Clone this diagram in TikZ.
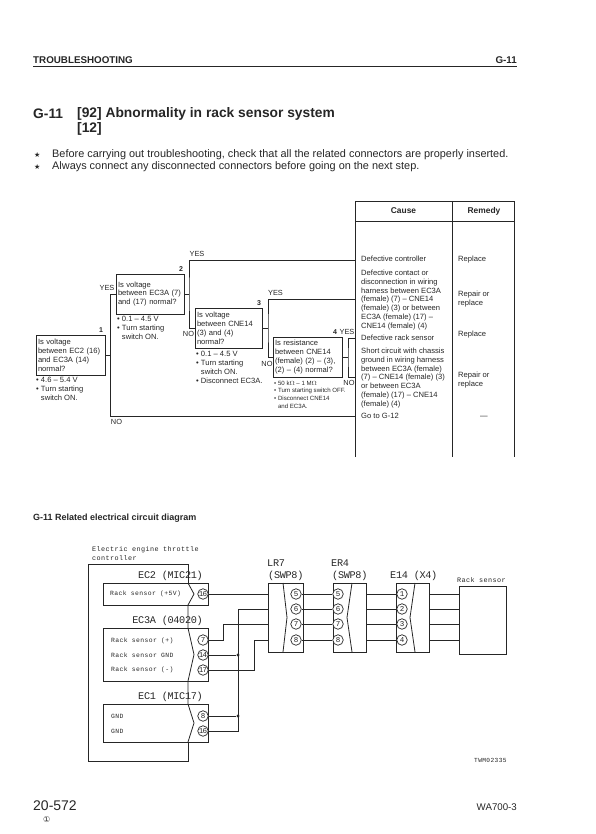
\documentclass[tikz,border=0pt]{standalone}
\usepackage{fontspec}
\setmainfont{Liberation Sans}
\newfontfamily\symfont{DejaVu Sans}
\newfontfamily\wirefont[LetterSpace=6]{Liberation Mono}
\newfontfamily\plugfont[LetterSpace=-3]{Liberation Mono}
\newfontfamily\pinfont[LetterSpace=-12]{Liberation Mono}
\usepackage{tikz}
\colorlet{inkK}{black!85}
\tikzset{
	% Text of the flow chart and of the table
	txt/.style={anchor=west, inner sep=0pt, text=inkK, font=\fontsize{7.6}{8.9}\selectfont, align=left},
	small/.style={txt, font=\fontsize{6.1}{7.6}\selectfont},
	tag/.style={inner sep=0pt, text=inkK, font=\fontsize{7.4}{9}\selectfont},
	qbox/.style={draw=inkK, line width=0.9pt, inner sep=2pt, text=inkK, align=left, font=\fontsize{7.6}{8.9}\selectfont},
	flow/.style={draw=inkK, line width=0.9pt},
	% Wiring diagram
	housing/.style={draw=inkK, line width=0.7pt, inner sep=0pt, anchor=north west},
	pin/.style={circle, draw=inkK, line width=0.7pt, fill=white, minimum size=10.5pt, inner sep=0pt, text=inkK, font=\pinfont\fontsize{7.5}{8}\selectfont},
	wire/.style={draw=inkK, line width=0.8pt},
	plugname/.style={inner sep=0pt, text=inkK, font=\plugfont\fontsize{10.2}{11}\selectfont},
	signal/.style={anchor=west, inner sep=0pt, text=inkK, font=\wirefont\fontsize{6.4}{9}\selectfont, align=left},
	spot/.style={circle, fill=inkK, minimum size=3.2pt, inner sep=0pt},
}
\begin{document}
\begin{tikzpicture}[x=1pt, y=-1pt]
	\useasboundingbox (0,0) rectangle (596,834);
	% Page head
	\node[txt, font=\fontsize{9.8}{11}\selectfont\bfseries] (head) at (33,60) {TROUBLESHOOTING};
	\node[txt, anchor=east, font=\fontsize{9.8}{11}\selectfont\bfseries] (headno) at (517,60) {G-11};
	\coordinate (ruleA) at (33,67);
	\coordinate (ruleB) at (517,67);
	\draw[flow, line width=1pt] (ruleA) -- (ruleB);
	\node[txt, font=\fontsize{13.8}{16}\selectfont\bfseries] (titleno) at (33,114) {G-11};
	\node[txt, font=\fontsize{13.8}{16}\selectfont\bfseries] (title) at (77,114) {[92] Abnormality in rack sensor system};
	\node[txt, font=\fontsize{13.8}{16}\selectfont\bfseries] (titleb) at (77,129) {[12]};
	\node[txt, font=\symfont\fontsize{7}{8}\selectfont] (starA) at (34,155) {★};
	\node[txt, font=\fontsize{10.9}{12}\selectfont] (noteA) at (52,155) {Before carrying out troubleshooting, check that all the related connectors are properly inserted.};
	\node[txt, font=\symfont\fontsize{7}{8}\selectfont] (starB) at (34,167) {★};
	\node[txt, font=\fontsize{10.9}{12}\selectfont] (noteB) at (52,167) {Always connect any disconnected connectors before going on the next step.};

	% Cause and remedy table
	\coordinate (tabA) at (355,201);
	\coordinate (tabB) at (514,201);
	\coordinate (tabC) at (355,221);
	\coordinate (tabD) at (514,221);
	\coordinate (tabE) at (355,457);
	\coordinate (tabF) at (514,457);
	\coordinate (tabG) at (452,201);
	\coordinate (tabH) at (452,457);
	\draw[flow] (tabE) -- (tabA) -- (tabB) -- (tabF);
	\draw[flow] (tabC) -- (tabD);
	\draw[flow] (tabG) -- (tabH);
	\node[anchor=base, inner sep=0pt, font=\fontsize{8.4}{9}\selectfont\bfseries, text=inkK] (cause) at (403.5,214) {Cause};
	\node[anchor=base, inner sep=0pt, font=\fontsize{8.4}{9}\selectfont\bfseries, text=inkK] (remedy) at (484,214) {Remedy};
	\node[txt] (causeA) at (361,259) {Defective controller};
	\node[txt] (causeB) at (361,300) {Defective contact or\\disconnection in wiring\\harness between EC3A\\(female) (7) -- CNE14\\(female) (3) or between\\EC3A (female) (17) --\\CNE14 (female) (4)};
	\node[txt] (causeC) at (361,338) {Defective rack sensor};
	\node[txt] (causeD) at (361,378) {Short circuit with chassis\\ground in wiring harness\\between EC3A (female)\\(7) -- CNE14 (female) (3)\\or between EC3A\\(female) (17) -- CNE14\\(female) (4)};
	\node[txt] (causeE) at (361,416) {Go to G-12};
	\node[txt] (remA) at (458,260) {Replace};
	\node[txt] (remB) at (458,299) {Repair or\\replace};
	\node[txt] (remC) at (458,335) {Replace};
	\node[txt] (remD) at (458,380) {Repair or\\replace};
	\node[txt, anchor=center] (remE) at (484,417) {---};

	% Flow chart
	\node[qbox, text width=65pt, minimum height=40pt] (qone) at (70.5,355) {Is voltage\\between EC2 (16)\\and EC3A (14)\\normal?};
	\node[qbox, text width=64pt, minimum height=40pt] (qtwo) at (150,294) {Is voltage\\between EC3A (7)\\and (17) normal?};
	\node[qbox, text width=63pt, minimum height=40pt] (qthree) at (228.5,328) {Is voltage\\between CNE14\\(3) and (4)\\normal?};
	\node[qbox, text width=65pt, minimum height=40pt] (qfour) at (307.5,357) {Is resistance\\between CNE14\\(female) (2) -- (3),\\(2) -- (4) normal?};
	\node[txt] (condone) at (36,389) {• 4.6 -- 5.4 V\\• Turn starting\\\hphantom{• }switch ON.};
	\node[txt] (condtwo) at (117,328) {• 0.1 -- 4.5 V\\• Turn starting\\\hphantom{• }switch ON.};
	\node[txt] (condthree) at (196,367.5) {• 0.1 -- 4.5 V\\• Turn starting\\\hphantom{• }switch ON.\\• Disconnect EC3A.};
	\node[small] (condfour) at (274,394.5) {• 50 k$\Omega$ -- 1 M$\Omega$\\• Turn starting switch OFF.\\• Disconnect CNE14\\\hphantom{• }and EC3A.};
	\coordinate (jone) at (110.5,355);
	\coordinate (jtwo) at (189,294);
	\coordinate (jthree) at (268,328);
	\coordinate (jfour) at (348,357);
	\coordinate (endA) at (355,260);
	\coordinate (endB) at (355,299);
	\coordinate (endC) at (355,338);
	\coordinate (endD) at (355,377);
	\coordinate (endE) at (355,416);
	\draw[flow] (qone.east) -- (jone);
	\draw[flow] (qtwo.west) -| (jone) |- (endE);
	\draw[flow] (qtwo.east) -- (jtwo);
	\draw[flow] (qthree.west) -| (jtwo) |- (endA);
	\draw[flow] (qthree.east) -- (jthree);
	\draw[flow] (qfour.west) -| (jthree) |- (endB);
	\draw[flow] (qfour.east) -- (jfour);
	\draw[flow] (endC) -| (jfour) |- (endD);
	\node[tag, font=\fontsize{7}{9}\selectfont\bfseries] (numone) at (101,330) {1};
	\node[tag, font=\fontsize{7}{9}\selectfont\bfseries] (numtwo) at (181,269) {2};
	\node[tag, font=\fontsize{7}{9}\selectfont\bfseries] (numthree) at (259,303) {3};
	\node[tag, font=\fontsize{7}{9}\selectfont\bfseries] (numfour) at (335,332) {4};
	\node[tag] (yesone) at (107,288) {YES};
	\node[tag] (yestwo) at (197,254) {YES};
	\node[tag] (yesthree) at (275.5,293) {YES};
	\node[tag] (yesfour) at (347,332) {YES};
	\node[tag] (noone) at (116.5,422) {NO};
	\node[tag] (notwo) at (188.5,334) {NO};
	\node[tag] (nothree) at (267,363.5) {NO};
	\node[tag] (nofour) at (349,383) {NO};

	% Related circuit
	\node[txt, font=\fontsize{9}{10}\selectfont\bfseries] (circuit) at (33,518) {G-11 Related electrical circuit diagram};
	\node[signal, font=\wirefont\fontsize{6.8}{9}\selectfont] (ctrl) at (92,553.5) {Electric engine throttle\\controller};
	\coordinate (ctrlA) at (188,583);
	\coordinate (ctrlB) at (188,564);
	\coordinate (ctrlC) at (88,564);
	\coordinate (ctrlD) at (88,761);
	\coordinate (ctrlE) at (188,761);
	\coordinate (ctrlF) at (188,742);
	\draw[wire] (ctrlA) -- (ctrlB) -- (ctrlC) -- (ctrlD) -- (ctrlE) -- (ctrlF);
	\node[housing, minimum width=105pt, minimum height=22pt] (ectwo) at (103,583) {};
	\node[housing, minimum width=105pt, minimum height=53pt] (ecthree) at (103,628) {};
	\node[housing, minimum width=105pt, minimum height=38pt] (econe) at (103,704) {};
	\draw[wire] (188,583) -- (194,594) -- (188,605) -- (188,628) -- (194,654.5) -- (188,681) -- (188,704) -- (194,723) -- (188,742);
	\node[plugname, anchor=east] (ectwoname) at (203,576) {EC2 (MIC21)};
	\node[plugname, anchor=east] (ecthreename) at (203,621) {EC3A (04020)};
	\node[plugname, anchor=east] (econename) at (203,697) {EC1 (MIC17)};
	\node[signal] (sigA) at (110,594) {Rack sensor (+5V)};
	\node[signal] (sigB) at (111,641) {Rack sensor (+)};
	\node[signal] (sigC) at (111,655) {Rack sensor GND};
	\node[signal] (sigD) at (111,670) {Rack sensor (-)};
	\node[signal] (sigE) at (111,716) {GND};
	\node[signal] (sigF) at (111,731) {GND};
	\node[pin] (etwoP) at (203,594) {16};
	\node[pin] (ethreeA) at (203,640) {7};
	\node[pin] (ethreeB) at (203,655) {14};
	\node[pin] (ethreeC) at (203,670) {17};
	\node[pin] (eoneA) at (203,716) {8};
	\node[pin] (eoneB) at (203,731) {16};

	\node[housing, minimum width=35pt, minimum height=69pt] (lrseven) at (268,583) {};
	\draw[wire] (283,583) -- (287,617.5) -- (283,652);
	\node[housing, minimum width=33pt, minimum height=69pt] (erfour) at (333,583) {};
	\draw[wire] (352,583) -- (347,617.5) -- (352,652);
	\node[housing, minimum width=33pt, minimum height=69pt] (efourteen) at (396,583) {};
	\draw[wire] (415,583) -- (410,617.5) -- (415,652);
	\node[housing, minimum width=47pt, minimum height=68pt] (sensor) at (459,586) {};
	\node[plugname, anchor=west] (lrname) at (267,563) {LR7};
	\node[plugname, anchor=west] (lrtype) at (268,576) {(SWP8)};
	\node[plugname, anchor=west] (ername) at (331,563) {ER4};
	\node[plugname, anchor=west] (ertype) at (332,576) {(SWP8)};
	\node[plugname, anchor=west] (eftype) at (390,576) {E14 (X4)};
	\node[signal, font=\wirefont\fontsize{6.8}{9}\selectfont] (sensorname) at (457,580) {Rack sensor};
	\node[signal, font=\wirefont\fontsize{6.2}{7}\selectfont] (drawno) at (474,760) {TWM02335};
	\node[pin] (lrA) at (296,594) {5};
	\node[pin] (lrB) at (296,609) {6};
	\node[pin] (lrC) at (296,624) {7};
	\node[pin] (lrD) at (296,640) {8};
	\node[pin] (erA) at (338,594) {5};
	\node[pin] (erB) at (338,609) {6};
	\node[pin] (erC) at (338,624) {7};
	\node[pin] (erD) at (338,640) {8};
	\node[pin] (efA) at (402,594) {1};
	\node[pin] (efB) at (402,609) {2};
	\node[pin] (efC) at (402,624) {3};
	\node[pin] (efD) at (402,640) {4};
	% Wires
	\coordinate (bendA) at (223,624);
	\coordinate (bendB) at (238,609);
	\coordinate (bendC) at (254,640);
	\node[spot] (spotA) at (238,655) {};
	\node[spot] (spotB) at (238,716) {};
	\draw[wire] (etwoP.east) -- (etwoP -| lrseven.west);
	\draw[wire] (ethreeA.east) -| (bendA) -- (bendA -| lrseven.west);
	\draw[wire] (ethreeC.east) -| (bendC) -- (bendC -| lrseven.west);
	\draw[wire] (eoneB.east) -| (bendB) -- (bendB -| lrseven.west);
	\draw[wire] (ethreeB.east) -- (spotA);
	\draw[wire] (eoneA.east) -- (spotB);
	\draw[wire] (lrA) -- (erA);
	\draw[wire] (lrB) -- (erB);
	\draw[wire] (lrC) -- (erC);
	\draw[wire] (lrD) -- (erD);
	\draw[wire] (efA -| erfour.east) -- (efA);
	\draw[wire] (efB -| erfour.east) -- (efB);
	\draw[wire] (efC -| erfour.east) -- (efC);
	\draw[wire] (efD -| erfour.east) -- (efD);
	\draw[wire] (efA -| efourteen.east) -- (efA -| sensor.west);
	\draw[wire] (efB -| efourteen.east) -- (efB -| sensor.west);
	\draw[wire] (efC -| efourteen.east) -- (efC -| sensor.west);
	\draw[wire] (efD -| efourteen.east) -- (efD -| sensor.west);

	% Page foot
	\node[txt, font=\fontsize{14}{16}\selectfont] (pageno) at (33,806) {20-572};
	\node[txt, anchor=east, font=\fontsize{9.7}{11}\selectfont] (model) at (517,807) {WA700-3};
	\node[txt, font=\symfont\fontsize{8}{10}\selectfont] (rev) at (43,820) {①};
\end{tikzpicture}
\end{document}
